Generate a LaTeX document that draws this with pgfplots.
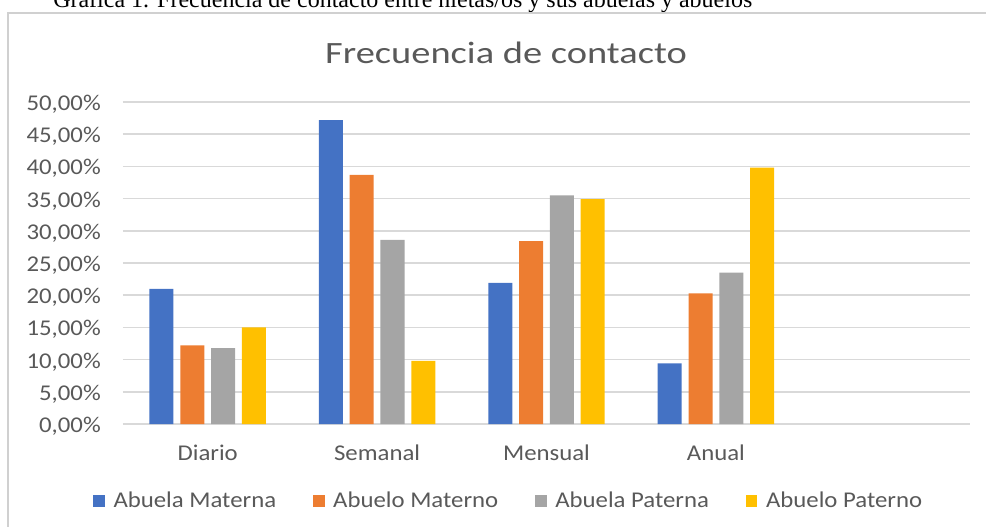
\documentclass[border=0pt]{standalone}
\usepackage{fontspec}
\setmainfont{Carlito}[FakeStretch=1.1]
\newfontfamily\titlefont{Carlito}[FakeStretch=1.24]
\newfontfamily\capfont{Liberation Serif}
\usepackage{pgfplots}
\pgfplotsset{compat=1.18}
\definecolor{cBlue}{HTML}{4472C4}
\definecolor{cOrange}{HTML}{ED7D31}
\definecolor{cGray}{HTML}{A5A5A5}
\definecolor{cYellow}{HTML}{FFC000}
\definecolor{textgray}{HTML}{595959}
\definecolor{gridgray}{HTML}{D9D9D9}
\definecolor{bordergray}{HTML}{D0D0D0}
\begin{document}
\begin{tikzpicture}
\useasboundingbox (0pt,0pt) rectangle (739.5pt,-395.25pt);
% caption (partly cut off at the top, as in the reference)
\node[anchor=base west, inner sep=0pt, font=\capfont\fontsize{18}{20}\selectfont] at (39.75pt,-5.6pt)
  {Gráfica 1. Frecuencia de contacto entre nietas/os y sus abuelas y abuelos};
% chart area border
\draw[bordergray, line width=1.5pt] (5.85pt,-420pt) -- (5.85pt,-10.1pt) -- (760pt,-10.1pt);
% title
\node[anchor=base, inner sep=0pt, text=textgray, font=\titlefont\fontsize{23.25}{26}\selectfont] at (379.5pt,-47.5pt) {Frecuencia de contacto};
\begin{axis}[
  at={(92.25pt,-318pt)}, anchor=south west,
  scale only axis, width=635.25pt, height=241.5pt,
  ybar=5.1pt, bar width=18pt,
  xmin=-0.5, xmax=4.5, ymin=0, ymax=50,
  enlargelimits=false,
  xtick={0,1,2,3}, xticklabels={Diario,Semanal,Mensual,Anual},
  ytick={0,5,...,50},
  yticklabel={\pgfmathprintnumber[fixed,fixed zerofill,precision=2,use comma]{\tick}\%},
  /pgf/number format/assume math mode=true,
  tick label style={font=\fontsize{16.9}{20}\selectfont, text=textgray},
  yticklabel style={anchor=base east, inner sep=0pt, xshift=-16.5pt, yshift=-6.3pt},
  xticklabel style={anchor=base, inner sep=0pt, yshift=-27pt},
  major tick length=0pt, tick style={draw=none},
  axis line style={draw=none},
  ymajorgrids, grid style={gridgray, line width=1.1pt},
  legend columns=4,
  legend cell align=left,
  legend image code/.code={\fill[#1] (0pt,-4.4pt) rectangle (8.8pt,4.4pt);},
  legend style={at={(0.4557,-0.2385)}, anchor=center, draw=none, fill=none,
    font=\fontsize{16.9}{20}\selectfont, text=textgray,
    /tikz/every odd column/.append style={column sep=4.5pt},
    /tikz/every even column/.append style={column sep=25.5pt}},
]
\addplot[fill=cBlue, draw=none] coordinates {(0,21.0) (1,47.2) (2,21.9) (3,9.4)};
\addplot[fill=cOrange, draw=none] coordinates {(0,12.2) (1,38.7) (2,28.4) (3,20.3)};
\addplot[fill=cGray, draw=none] coordinates {(0,11.8) (1,28.6) (2,35.5) (3,23.5)};
\addplot[fill=cYellow, draw=none] coordinates {(0,15.0) (1,9.8) (2,34.9) (3,39.8)};
\legend{Abuela Materna, Abuelo Materno, Abuela Paterna, Abuelo Paterno}
\end{axis}
\end{tikzpicture}
\end{document}
